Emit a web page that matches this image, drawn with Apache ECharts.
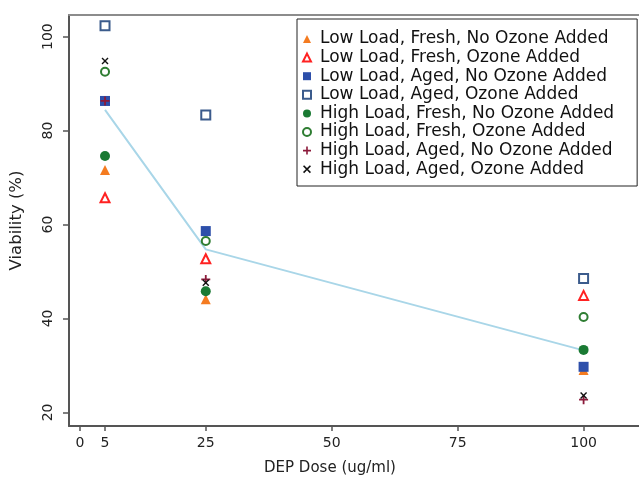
<!DOCTYPE html>
<html>
<head>
<meta charset="utf-8">
<script src="https://cdn.jsdelivr.net/npm/echarts@6/dist/echarts.min.js"></script>
<style>html,body{margin:0;padding:0;background:#fff}#c{width:639px;height:483px}</style>
</head>
<body>
<div id="c"></div>
<script>
const doses = [5, 25, 100];
const xTicks = [0, 5, 25, 50, 75, 100];
const yTicks = [20, 40, 60, 80, 100];
const seriesNames = [
  'Low Load, Fresh, No Ozone Added',
  'Low Load, Fresh, Ozone Added',
  'Low Load, Aged, No Ozone Added',
  'Low Load, Aged, Ozone Added',
  'High Load, Fresh, No Ozone Added',
  'High Load, Fresh, Ozone Added',
  'High Load, Aged, No Ozone Added',
  'High Load, Aged, Ozone Added'
];
const lowFreshNoOz = [71.6, 44.1, 29.0];
const lowFreshOz = [65.7, 52.7, 44.9];
const lowAgedNoOz = [86.3, 58.6, 29.7];
const lowAgedOz = [102.3, 83.3, 48.5];
const highFreshNoOz = [74.6, 45.8, 33.3];
const highFreshOz = [92.5, 56.5, 40.3];
const highAgedNoOz = [86.3, 48.3, 22.7];
const highAgedOz = [94.8, 47.6, 23.6];
const fitLine = [84.4, 54.7, 33.2];

const values = [lowFreshNoOz, lowFreshOz, lowAgedNoOz, lowAgedOz, highFreshNoOz, highFreshOz, highAgedNoOz, highAgedOz];
const plusPath = 'path://M4,0H6V4H10V6H6V10H4V6H0V4H4Z';
const crossPath = 'path://M1.4,0L5,3.6L8.6,0L10,1.4L6.4,5L10,8.6L8.6,10L5,6.4L1.4,10L0,8.6L3.6,5L0,1.4Z';
const styles = [
  {symbol: 'triangle', size: 10, itemStyle: {color: '#f47b20', opacity: 1}},
  {symbol: 'triangle', size: 9, itemStyle: {color: 'transparent', borderColor: '#ff2222', borderWidth: 2, opacity: 1}},
  {symbol: 'rect', size: 10, itemStyle: {color: '#2d4faa', opacity: 1}},
  {symbol: 'rect', size: 9, itemStyle: {color: 'transparent', borderColor: '#3b5b8c', borderWidth: 2, opacity: 1}},
  {symbol: 'circle', size: 10, itemStyle: {color: '#1a7a33', opacity: 1}},
  {symbol: 'circle', size: 8, itemStyle: {color: 'transparent', borderColor: '#2e7d32', borderWidth: 2, opacity: 1}},
  {symbol: plusPath, size: 9, itemStyle: {color: '#8b1a3a', opacity: 1}},
  {symbol: crossPath, size: 7, itemStyle: {color: '#111', opacity: 1}}
];

const series = [{
  type: 'line',
  name: 'fit',
  data: doses.map((d, i) => [d, fitLine[i]]),
  symbol: 'none',
  lineStyle: {color: '#a9d6e8', width: 2},
  z: 1,
  silent: true
}];
seriesNames.forEach((n, k) => {
  series.push({
    type: 'scatter',
    name: n,
    data: doses.map((d, i) => [d, values[k][i]]),
    symbol: styles[k].symbol,
    symbolSize: styles[k].size,
    itemStyle: styles[k].itemStyle,
    z: 2 + k
  });
});

const X_MIN = -2.15, X_MAX = 111;

const chart = echarts.init(document.getElementById('c'), null, {renderer: 'canvas'});
chart.setOption({
  animation: false,
  textStyle: {fontFamily: 'DejaVu Sans'},
  grid: {left: 69, right: 0, top: 15, bottom: 57, show: false, containLabel: false},
  title: {
    text: 'DEP Dose (ug/ml)',
    left: 330, top: 461, textAlign: 'center', padding: 0,
    textStyle: {fontFamily: 'DejaVu Sans', fontSize: 15, fontWeight: 'normal', color: '#222'}
  },
  xAxis: [{
    type: 'value', min: X_MIN, max: X_MAX,
    splitLine: {show: false},
    axisLine: {show: true, onZero: false, lineStyle: {color: '#555', width: 2}},
    axisTick: {show: true, length: 5, lineStyle: {color: '#555', width: 1.5}, customValues: xTicks},
    axisLabel: {customValues: xTicks, fontSize: 14, color: '#222', margin: 10, fontFamily: 'DejaVu Sans'}
  }, {
    type: 'value', min: X_MIN, max: X_MAX, position: 'top',
    splitLine: {show: false},
    axisLine: {show: true, onZero: false, lineStyle: {color: '#8c8c8c', width: 2}},
    axisTick: {show: false},
    axisLabel: {show: false}
  }],
  yAxis: {
    type: 'value', min: 17.1, max: 104.6,
    name: 'Viability (%)', nameLocation: 'middle', nameGap: 44,
    nameTextStyle: {fontSize: 16.5, color: '#222', fontFamily: 'DejaVu Sans'},
    splitLine: {show: false},
    axisLine: {show: true, onZero: false, lineStyle: {color: '#555', width: 2}},
    axisTick: {show: true, length: 6, lineStyle: {color: '#555', width: 1.5}, customValues: yTicks},
    axisLabel: {customValues: yTicks, fontSize: 14, color: '#222', rotate: 90, margin: 14, fontFamily: 'DejaVu Sans'}
  },
  legend: {
    data: seriesNames,
    orient: 'vertical',
    left: 297, top: 19,
    padding: [10.7, 23, 7.5, 5],
    itemWidth: 8, itemHeight: 8, itemGap: 0,
    borderColor: '#222', borderWidth: 1,
    backgroundColor: '#fff',
    textStyle: {fontSize: 17, lineHeight: 18.6, color: '#111', fontFamily: 'DejaVu Sans', padding: [0, 0, 0, 4]}
  },
  series: series
});
</script>
</body>
</html>
